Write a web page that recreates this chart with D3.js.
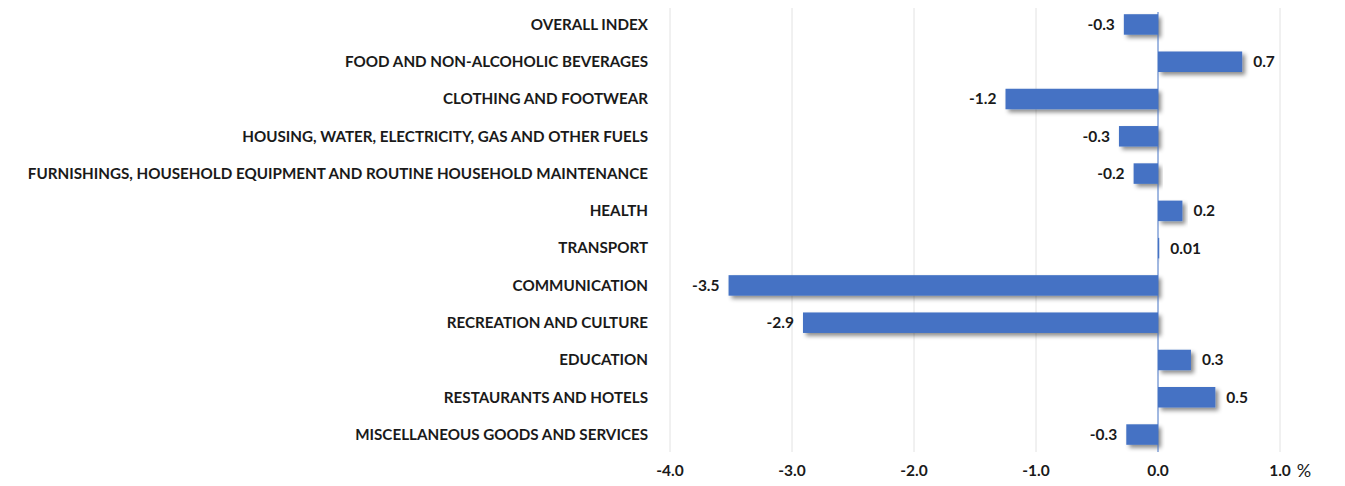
<!DOCTYPE html>
<html>
<head>
<meta charset="utf-8">
<script src="https://cdn.jsdelivr.net/npm/d3@7"></script>
<style>
  body { margin: 0; background: #fff; }
  text { font-family: Lato, "Open Sans", sans-serif; font-weight: bold; fill: #1a1a1a; }
</style>
</head>
<body>
<svg id="chart" width="1345" height="486"></svg>
<script>
var categories = [
  "OVERALL INDEX",
  "FOOD AND NON-ALCOHOLIC BEVERAGES",
  "CLOTHING AND FOOTWEAR",
  "HOUSING, WATER, ELECTRICITY, GAS AND OTHER FUELS",
  "FURNISHINGS, HOUSEHOLD EQUIPMENT AND ROUTINE HOUSEHOLD MAINTENANCE",
  "HEALTH",
  "TRANSPORT",
  "COMMUNICATION",
  "RECREATION AND CULTURE",
  "EDUCATION",
  "RESTAURANTS AND HOTELS",
  "MISCELLANEOUS GOODS AND SERVICES"
];
var values = [-0.28, 0.69, -1.25, -0.32, -0.2, 0.2, 0.01, -3.52, -2.91, 0.27, 0.47, -0.26];
var valueLabels = ["-0.3", "0.7", "-1.2", "-0.3", "-0.2", "0.2", "0.01", "-3.5", "-2.9", "0.3", "0.5", "-0.3"];
var ticks = [-4, -3, -2, -1, 0, 1];

var fmt = d3.formatLocale({decimal: ".", thousands: ",", grouping: [3], currency: ["", ""], minus: "-"}).format(".1f");

var svg = d3.select("svg#chart");
var x = d3.scaleLinear().domain([-4, 1]).range([670, 1280]);
var y = d3.scaleBand().domain(categories).range([6, 453]).paddingInner(0.45).paddingOuter(0.22);

var defs = svg.append("defs");
var f = defs.append("filter").attr("id", "shadow")
  .attr("x", "-10%").attr("y", "-30%").attr("width", "130%").attr("height", "190%");
f.append("feDropShadow").attr("dx", 3).attr("dy", 3).attr("stdDeviation", 2)
  .attr("flood-color", "#000").attr("flood-opacity", 0.45);

// gridlines
svg.selectAll("line.grid").data(ticks.filter(d => d !== 0))
  .enter().append("line")
  .attr("class", "grid")
  .attr("x1", d => x(d)).attr("x2", d => x(d))
  .attr("y1", 8).attr("y2", 452)
  .attr("stroke", "#e2e2e2").attr("stroke-width", 1);

// bars
svg.selectAll("rect.bar").data(values)
  .enter().append("rect")
  .attr("class", "bar")
  .attr("x", d => Math.min(x(0), x(d)))
  .attr("y", (d, i) => y(categories[i]))
  .attr("width", d => Math.abs(x(d) - x(0)))
  .attr("height", y.bandwidth())
  .attr("fill", "#4472c4")
  .attr("filter", "url(#shadow)");

// zero line
svg.append("line")
  .attr("x1", x(0)).attr("x2", x(0))
  .attr("y1", 12).attr("y2", 452)
  .attr("stroke", "#4472c4").attr("stroke-width", 1);

// category labels
svg.selectAll("text.cat").data(categories)
  .enter().append("text")
  .attr("class", "cat")
  .attr("x", 648)
  .attr("y", d => y(d) + y.bandwidth() / 2)
  .attr("dy", "0.35em")
  .attr("text-anchor", "end")
  .style("font-size", "15.2px")
  .text(d => d);

// value labels
svg.selectAll("text.val").data(values)
  .enter().append("text")
  .attr("class", "val")
  .attr("x", d => d < 0 ? x(d) - 9 : x(d) + 11)
  .attr("y", (d, i) => y(categories[i]) + y.bandwidth() / 2)
  .attr("dy", "0.35em")
  .attr("text-anchor", d => d < 0 ? "end" : "start")
  .style("font-size", "15.5px")
  .text((d, i) => valueLabels[i]);

// x axis labels
svg.selectAll("text.tick").data(ticks)
  .enter().append("text")
  .attr("class", "tick")
  .attr("x", d => x(d))
  .attr("y", 476)
  .attr("text-anchor", "middle")
  .style("font-size", "15.5px")
  .text(d => fmt(d));

svg.append("text")
  .attr("x", 1304).attr("y", 477)
  .attr("text-anchor", "middle")
  .style("font-size", "18px")
  .style("font-weight", "normal")
  .text("%");
</script>
</body>
</html>
